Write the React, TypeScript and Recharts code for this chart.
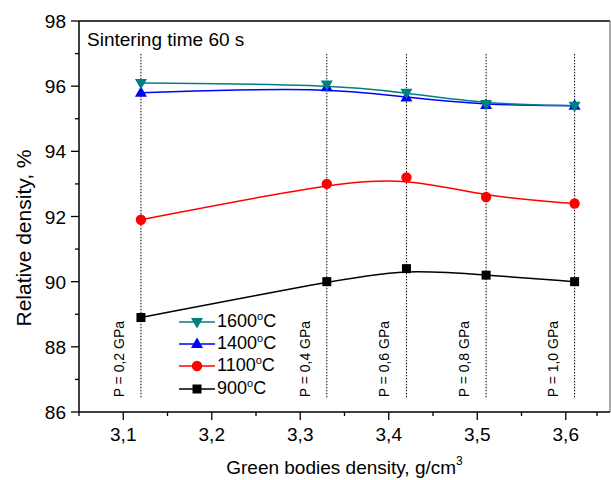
import { ComposedChart, Line, XAxis, YAxis, ReferenceLine, ReferenceDot, Label } from "recharts"

const FONT = "'Liberation Sans', Arial, sans-serif"

// green bodies density, g/cm3 (one point per compaction pressure)
const greenDensity = [3.12, 3.33, 3.42, 3.51, 3.61]
const pressureLabels = ["P = 0,2 GPa", "P = 0,4 GPa", "P = 0,6 GPa", "P = 0,8 GPa", "P = 1,0 GPa"]

// relative density, %
const rel900 = [88.9, 90.0, 90.4, 90.2, 90.0]
const rel1100 = [91.9, 93.0, 93.2, 92.6, 92.4]
const rel1400 = [95.8, 95.97, 95.65, 95.42, 95.4]
const rel1600 = [96.1, 96.05, 95.8, 95.45, 95.4]

const xTicks = [3.05, 3.1, 3.15, 3.2, 3.25, 3.3, 3.35, 3.4, 3.45, 3.5, 3.55, 3.6, 3.65]
const yTicks = [86, 87, 88, 89, 90, 91, 92, 93, 94, 95, 96, 97, 98]

// extent of the dotted pressure guides
const guideBottom = 86.45
const guideTop = 97.0

type Shape = "down" | "up" | "circle" | "square"

const series: { key: string; name: string; color: string; shape: Shape }[] = [
  { key: "t1600", name: "1600", color: "#008080", shape: "down" },
  { key: "t1400", name: "1400", color: "#0000ff", shape: "up" },
  { key: "t1100", name: "1100", color: "#ff0000", shape: "circle" },
  { key: "t900", name: "900", color: "#000000", shape: "square" },
]

const data = greenDensity.map((x, i) => ({
  x,
  t900: rel900[i],
  t1100: rel1100[i],
  t1400: rel1400[i],
  t1600: rel1600[i],
}))

function Marker({ cx, cy, shape, color }: { cx: number; cy: number; shape: Shape; color: string }) {
  if (shape === "square") return <rect x={cx - 4.5} y={cy - 4.5} width={9} height={9} fill={color} />
  if (shape === "circle") return <circle cx={cx} cy={cy} r={5.2} fill={color} />
  if (shape === "up")
    return <polygon points={`${cx},${cy - 6.5} ${cx - 6},${cy + 4} ${cx + 6},${cy + 4}`} fill={color} />
  return <polygon points={`${cx - 6},${cy - 4} ${cx + 6},${cy - 4} ${cx},${cy + 6.5}`} fill={color} />
}

const isMajor = (v: number, step: number) => Math.abs(Math.round(v / step) * step - v) < 1e-6

function XTick({ x, y, payload }: any) {
  const major = isMajor(payload.value, 0.1)
  return (
    <g>
      <line x1={x} y1={y} x2={x} y2={y + (major ? 8 : 4)} stroke="#000" strokeWidth={1.3} />
      {major && (
        <text x={x} y={y + 29} textAnchor="middle" fontSize={19} fontFamily={FONT} fill="#000">
          {payload.value.toFixed(1).replace(".", ",")}
        </text>
      )}
    </g>
  )
}

function YTick({ x, y, payload }: any) {
  const major = isMajor(payload.value, 2)
  return (
    <g>
      <line x1={x} y1={y} x2={x - (major ? 8 : 4)} y2={y} stroke="#000" strokeWidth={1.3} />
      {major && (
        <text x={x - 13} y={y + 7} textAnchor="end" fontSize={19} fontFamily={FONT} fill="#000">
          {payload.value}
        </text>
      )}
    </g>
  )
}

function Legend() {
  return (
    <div style={{ position: "absolute", left: 178, top: 311, fontFamily: FONT, fontSize: 18 }}>
      {series.map((s) => (
        <div key={s.key} style={{ display: "flex", alignItems: "center", height: 22.2, lineHeight: "22px" }}>
          <svg width={39} height={22}>
            <line x1={1} y1={11} x2={37} y2={11} stroke={s.color} strokeWidth={1.5} />
            <Marker cx={19} cy={11} shape={s.shape} color={s.color} />
          </svg>
          <span>
            {s.name}
            <span style={{ fontSize: 11, position: "relative", top: -7 }}>o</span>C
          </span>
        </div>
      ))}
    </div>
  )
}

export default function App() {
  return (
    <div style={{ position: "absolute", left: 0, top: 0, width: 611, height: 480, background: "#fff" }}>
      <ComposedChart width={611} height={480} data={data} margin={{ top: 21, right: 1, bottom: 0, left: 0 }}>
        <XAxis
          type="number"
          dataKey="x"
          domain={[3.05, 3.65]}
          ticks={xTicks}
          allowDataOverflow
          height={68}
          tickSize={0}
          tickMargin={0}
          tickLine={false}
          tick={XTick}
          axisLine={{ stroke: "#000", strokeWidth: 1.5 }}
        >
          <Label
            content={({ viewBox }: any) => {
              const vb = viewBox || { x: 79, y: 412, width: 531 }
              return (
                <text x={vb.x + vb.width / 2} y={vb.y + 62} textAnchor="middle" fontSize={19} fontFamily={FONT} fill="#000">
                  Green bodies density, g/cm
                  <tspan fontSize={12} dy={-9}>3</tspan>
                </text>
              )
            }}
          />
        </XAxis>
        <YAxis
          type="number"
          domain={[86, 98]}
          ticks={yTicks}
          allowDataOverflow
          width={79}
          tickSize={0}
          tickMargin={0}
          tickLine={false}
          tick={YTick}
          axisLine={{ stroke: "#000", strokeWidth: 1.5 }}
        >
          <Label
            content={() => {
              const cx = 31
              const cy = 238
              return (
                <text
                  x={cx}
                  y={cy}
                  transform={`rotate(-90 ${cx} ${cy})`}
                  textAnchor="middle"
                  fontSize={21}
                  fontFamily={FONT}
                  fill="#000"
                >
                  Relative density, %
                </text>
              )
            }}
          />
        </YAxis>

        <ReferenceLine y={98} stroke="#000" strokeWidth={1.5} />
        <ReferenceLine x={3.65} stroke="#555" strokeWidth={1} />

        {greenDensity.map((x, i) => (
          <ReferenceLine
            key={`g${i}`}
            segment={[
              { x, y: guideBottom },
              { x, y: guideTop },
            ]}
            stroke="#000"
            strokeWidth={1}
            strokeDasharray="1.5 1.5"
          />
        ))}
        {greenDensity.map((x, i) => (
          <ReferenceDot
            key={`p${i}`}
            x={x}
            y={guideBottom}
            r={0}
            shape={(p: any) => {
              const tx = p.cx - 17
              const ty = p.cy
              return (
                <text
                  x={tx}
                  y={ty}
                  transform={`rotate(-90 ${tx} ${ty})`}
                  fontSize={14}
                  fontFamily={FONT}
                  fill="#000"
                >
                  {pressureLabels[i]}
                </text>
              )
            }}
          />
        ))}

        {[...series].reverse().map((s) => (
          <Line
            key={s.key}
            type="basis"
            dataKey={s.key}
            stroke={s.color}
            strokeWidth={1.5}
            isAnimationActive={false}
            dot={(p: any) => <Marker key={`${s.key}-${p.index}`} cx={p.cx} cy={p.cy} shape={s.shape} color={s.color} />}
            activeDot={false}
          />
        ))}
      </ComposedChart>
      <div
        style={{ position: "absolute", left: 87, top: 30, fontFamily: FONT, fontSize: 19, lineHeight: "19px", whiteSpace: "nowrap" }}
      >
        Sintering time 60 s
      </div>
      <Legend />
    </div>
  )
}
